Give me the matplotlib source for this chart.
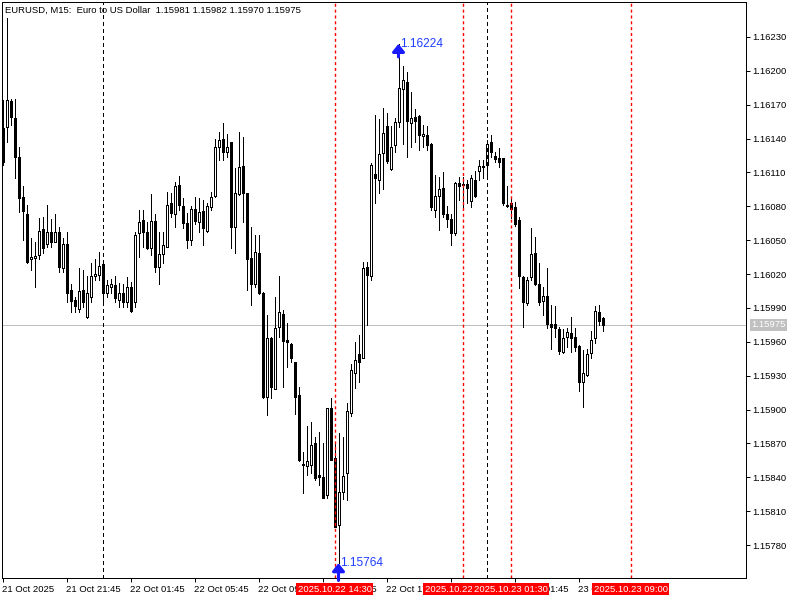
import matplotlib
matplotlib.use('Agg')
import matplotlib.pyplot as plt
import matplotlib.transforms as mtransforms

# EURUSD M15 bars, 21 Oct 2025 17:45 -> 23 Oct 2025 07:15
opens = [1.16149, 1.16150, 1.16173, 1.16158, 1.16124, 1.16088, 1.16073, 1.16033, 1.16034, 1.16037,
         1.16060, 1.16047, 1.16057, 1.16048, 1.16057, 1.16025, 1.16047, 1.16006, 1.15997, 1.15989,
         1.16006, 1.15982, 1.16000, 1.16018, 1.16019, 1.16029, 1.16003, 1.16009, 1.16010, 1.15997,
         1.16003, 1.15995, 1.16009, 1.15995, 1.16056, 1.16068, 1.16057, 1.16043, 1.16067, 1.16026,
         1.16038, 1.16044, 1.16083, 1.16073, 1.16099, 1.16080, 1.16065, 1.16050, 1.16078, 1.16066,
         1.16076, 1.16058, 1.16079, 1.16089, 1.16133, 1.16140, 1.16128, 1.16137, 1.16062, 1.16091,
         1.16116, 1.16092, 1.16034, 1.16011, 1.16039, 1.16003, 1.15911, 1.15963, 1.15918, 1.15973,
         1.15985, 1.15962, 1.15958, 1.15942, 1.15913, 1.15852, 1.15850, 1.15851, 1.15870, 1.15842,
         1.15840, 1.15824, 1.15901, 1.15857, 1.15798, 1.15827, 1.15844, 1.15897, 1.15932, 1.15949,
         1.15946, 1.16026, 1.16018, 1.16109, 1.16103, 1.16127, 1.16151, 1.16113, 1.16134, 1.16155,
         1.16184, 1.16190, 1.16154, 1.16159, 1.16160, 1.16142, 1.16143, 1.16135, 1.16077, 1.16089,
         1.16096, 1.16073, 1.16069, 1.16056, 1.16101, 1.16100, 1.16100, 1.16085, 1.16103, 1.16111,
         1.16116, 1.16117, 1.16137, 1.16125, 1.16123, 1.16123, 1.16081, 1.16083, 1.16079, 1.16068,
         1.16017, 1.15994, 1.16017, 1.16039, 1.16011, 1.15996, 1.16001, 1.15976, 1.15976, 1.15971,
         1.15951, 1.15964, 1.15968, 1.15964, 1.15956, 1.15924, 1.15931, 1.15950, 1.15963, 1.15986,
         1.15981]
highs = [1.16174, 1.16247, 1.16175, 1.16175, 1.16133, 1.16098, 1.16081, 1.16052, 1.16048, 1.16070,
         1.16071, 1.16081, 1.16069, 1.16073, 1.16062, 1.16052, 1.16057, 1.16011, 1.16000, 1.16025,
         1.16024, 1.16018, 1.16030, 1.16033, 1.16040, 1.16031, 1.16015, 1.16016, 1.16018, 1.16012,
         1.16011, 1.16017, 1.16013, 1.16057, 1.16077, 1.16077, 1.16066, 1.16091, 1.16073, 1.16057,
         1.16057, 1.16093, 1.16092, 1.16102, 1.16107, 1.16087, 1.16074, 1.16080, 1.16088, 1.16087,
         1.16086, 1.16083, 1.16093, 1.16140, 1.16146, 1.16154, 1.16144, 1.16137, 1.16114, 1.16146,
         1.16141, 1.16092, 1.16062, 1.16055, 1.16055, 1.16004, 1.15984, 1.15964, 1.16000, 1.16018,
         1.15988, 1.15977, 1.15959, 1.15942, 1.15920, 1.15862, 1.15885, 1.15889, 1.15876, 1.15880,
         1.15870, 1.15901, 1.15910, 1.15871, 1.15879, 1.15876, 1.15906, 1.15940, 1.15960, 1.15966,
         1.16031, 1.16031, 1.16118, 1.16161, 1.16157, 1.16167, 1.16163, 1.16151, 1.16158, 1.16224,
         1.16204, 1.16199, 1.16181, 1.16166, 1.16161, 1.16152, 1.16151, 1.16136, 1.16108, 1.16106,
         1.16110, 1.16080, 1.16073, 1.16102, 1.16106, 1.16106, 1.16103, 1.16108, 1.16111, 1.16121,
         1.16121, 1.16139, 1.16143, 1.16128, 1.16132, 1.16123, 1.16098, 1.16088, 1.16084, 1.16071,
         1.16018, 1.16017, 1.16061, 1.16053, 1.16030, 1.16009, 1.16025, 1.15993, 1.15992, 1.15973,
         1.15971, 1.15972, 1.15982, 1.15972, 1.15957, 1.15953, 1.15954, 1.15970, 1.15992, 1.15993,
         1.15982]
lows = [1.16117, 1.16137, 1.16152, 1.16105, 1.16075, 1.16050, 1.16030, 1.16024, 1.16009, 1.16033,
        1.16039, 1.16044, 1.16044, 1.16048, 1.16022, 1.16022, 1.15995, 1.15986, 1.15986, 1.15986,
        1.15991, 1.15981, 1.15995, 1.16015, 1.16015, 1.15995, 1.16000, 1.16003, 1.15995, 1.15991,
        1.15991, 1.15991, 1.15986, 1.15991, 1.16035, 1.16044, 1.16042, 1.16037, 1.16022, 1.16011,
        1.16030, 1.16044, 1.16071, 1.16062, 1.16077, 1.16061, 1.16043, 1.16046, 1.16064, 1.16057,
        1.16046, 1.16057, 1.16077, 1.16088, 1.16121, 1.16121, 1.16124, 1.16043, 1.16039, 1.16090,
        1.16066, 1.16006, 1.15993, 1.16009, 1.16002, 1.15910, 1.15895, 1.15910, 1.15918, 1.15964,
        1.15920, 1.15938, 1.15942, 1.15896, 1.15854, 1.15826, 1.15842, 1.15844, 1.15838, 1.15833,
        1.15822, 1.15822, 1.15855, 1.15796, 1.15764, 1.15821, 1.15820, 1.15894, 1.15919, 1.15924,
        1.15946, 1.15975, 1.16015, 1.16083, 1.16092, 1.16095, 1.16118, 1.16112, 1.16128, 1.16150,
        1.16135, 1.16124, 1.16133, 1.16137, 1.16130, 1.16133, 1.16130, 1.16077, 1.16071, 1.16059,
        1.16071, 1.16062, 1.16046, 1.16055, 1.16086, 1.16077, 1.16083, 1.16079, 1.16088, 1.16103,
        1.16105, 1.16105, 1.16124, 1.16119, 1.16115, 1.16081, 1.16079, 1.16070, 1.16063, 1.16008,
        1.15973, 1.15993, 1.16015, 1.16010, 1.15993, 1.15984, 1.15972, 1.15954, 1.15964, 1.15949,
        1.15950, 1.15955, 1.15951, 1.15952, 1.15916, 1.15902, 1.15930, 1.15946, 1.15959, 1.15975,
        1.15970]
closes = [1.16119, 1.16174, 1.16159, 1.16124, 1.16087, 1.16076, 1.16031, 1.16035, 1.16036, 1.16058,
          1.16043, 1.16057, 1.16048, 1.16057, 1.16026, 1.16047, 1.16003, 1.15996, 1.15992, 1.16005,
          1.15995, 1.16003, 1.16018, 1.16020, 1.16027, 1.16003, 1.16010, 1.16011, 1.15999, 1.16003,
          1.15995, 1.16009, 1.15987, 1.16055, 1.16066, 1.16057, 1.16043, 1.16067, 1.16026, 1.16038,
          1.16046, 1.16081, 1.16074, 1.16098, 1.16081, 1.16065, 1.16050, 1.16078, 1.16067, 1.16075,
          1.16061, 1.16080, 1.16088, 1.16133, 1.16139, 1.16128, 1.16133, 1.16062, 1.16092, 1.16115,
          1.16092, 1.16033, 1.16011, 1.16040, 1.16003, 1.15911, 1.15963, 1.15920, 1.15972, 1.15986,
          1.15961, 1.15960, 1.15946, 1.15911, 1.15855, 1.15851, 1.15854, 1.15869, 1.15839, 1.15840,
          1.15822, 1.15901, 1.15855, 1.15796, 1.15827, 1.15841, 1.15899, 1.15935, 1.15944, 1.15942,
          1.16025, 1.16019, 1.16117, 1.16105, 1.16126, 1.16145, 1.16120, 1.16133, 1.16155, 1.16185,
          1.16192, 1.16156, 1.16158, 1.16156, 1.16143, 1.16144, 1.16134, 1.16079, 1.16089, 1.16095,
          1.16073, 1.16069, 1.16056, 1.16101, 1.16098, 1.16099, 1.16096, 1.16105, 1.16089, 1.16116,
          1.16115, 1.16135, 1.16128, 1.16122, 1.16119, 1.16083, 1.16080, 1.16078, 1.16064, 1.16018,
          1.15995, 1.16015, 1.16038, 1.16011, 1.15995, 1.16001, 1.15976, 1.15973, 1.15972, 1.15952,
          1.15963, 1.15969, 1.15963, 1.15955, 1.15924, 1.15932, 1.15949, 1.15962, 1.15987, 1.15978,
          1.15975]

time_ticks = [0, 16, 32, 48, 64, 80, 96, 112, 128, 144]
time_labels = ['21 Oct 2025', '21 Oct 21:45', '22 Oct 01:45', '22 Oct 05:45', '22 Oct 09:45',
               '22 Oct 13:45', '22 Oct 17:45', '22 Oct 21:45', '23 Oct 01:45', '23 Oct 05:45']
price_ticks = [1.15780, 1.15810, 1.15840, 1.15870, 1.15900, 1.15930, 1.15960, 1.15990,
               1.16020, 1.16050, 1.16080, 1.16110, 1.16140, 1.16170, 1.16200, 1.16230]
day_breaks = [25, 121]
event_bars = [83, 115, 127, 157]
event_labels = ['2025.10.22 14:30', '2025.10.22 22:30', '2025.10.23 01:30', '2025.10.23 09:00']
high_bar, high_price = 99, 1.16224
low_bar, low_price = 84, 1.15764

plt.rcParams['font.family'] = ['Liberation Sans', 'DejaVu Sans']
FS = 6.8
PX = 0.72  # one pixel in points

fig = plt.figure(figsize=(8, 6), dpi=100)
ax = fig.add_axes([2 / 800, 22 / 600, 744 / 800, 576 / 600])
ax.set_xlim(-0.125, 185.875)
ax.set_ylim(1.157508, 1.162610)

n = len(opens)
xs = list(range(n))

# current price line
ax.axhline(closes[-1], color='#c0c0c0', lw=PX, zorder=0.5, antialiased=False)

# wicks
ax.vlines(xs, lows, highs, color='black', lw=PX, zorder=2, antialiased=False)
# bodies
bottoms = [min(o, c) for o, c in zip(opens, closes)]
heights = [abs(c - o) for o, c in zip(opens, closes)]
faces = ['white' if c >= o else 'black' for o, c in zip(opens, closes)]
ax.bar(xs, heights, bottom=bottoms, width=0.5, color=faces, edgecolor='black', lw=PX,
       zorder=3, antialiased=False)

# period separators (black) and time markers (red)
ax.vlines(day_breaks, 0, 1, transform=ax.get_xaxis_transform(), colors='black', lw=PX,
          linestyles=[(0, (3, 3))], zorder=4, antialiased=False)
for b in event_bars:
    ax.plot([b, b], [0, 1], transform=ax.get_xaxis_transform(), color='#ff0000', lw=1.0,
            dashes=(2.2, 2.0), zorder=5, dash_capstyle='butt')

# axes styling
for sp in ax.spines.values():
    sp.set_linewidth(PX)
    sp.set_color('black')
    sp.set_antialiased(False)
ax.yaxis.tick_right()
ax.set_yticks(price_ticks)
ax.set_yticklabels(['%.5f' % p for p in price_ticks])
ax.set_xticks(time_ticks)
ax.set_xticklabels(time_labels, ha='left')
ax.tick_params(axis='both', direction='out', length=4 * PX, width=PX, labelsize=FS, colors='black')
ax.tick_params(axis='y', pad=1.5)
ax.tick_params(axis='x', pad=2)

# header
ax.text(3 / 744, 1 - 8 / 576, 'EURUSD, M15:  Euro to US Dollar  %.5f %.5f %.5f %.5f'
        % (opens[-1], highs[-1], lows[-1], closes[-1]),
        transform=ax.transAxes, fontsize=FS, va='center', ha='left', zorder=1)

# current price tag
trans_y = mtransforms.blended_transform_factory(ax.transAxes, ax.transData)
ax.text(1 + 5 / 744, closes[-1], '%.5f' % closes[-1], transform=trans_y, fontsize=FS,
        color='white', va='center', ha='left', clip_on=False,
        bbox=dict(boxstyle='square,pad=0.12', fc='#c0c0c0', ec='none'))

# event labels under the time axis
trans_x = mtransforms.blended_transform_factory(ax.transData, ax.transAxes)
for b, lab in zip(event_bars, event_labels):
    ax.text(b, -11 / 576, lab, transform=trans_x, fontsize=FS, color='white', ha='center',
            va='center', clip_on=False, zorder=10,
            bbox=dict(boxstyle='square,pad=0.2', fc='#ff0000', ec='none'))

# high / low arrows
blue = '#1f3dff'
for b, p, off in [(high_bar, high_price, 0), (low_bar, low_price, -3)]:
    ax.annotate('', xy=(b, p), xytext=(0, off - 9.5), textcoords='offset points',
                xycoords='data', annotation_clip=False, zorder=6,
                arrowprops=dict(arrowstyle='-|>,head_length=0.45,head_width=0.36',
                                color='#1a1aff', lw=2.2, shrinkA=0, shrinkB=0))
    ax.annotate('%.5f' % p, xy=(b, p), xytext=(1.2, 0), textcoords='offset points',
                color=blue, fontsize=8.6, va='center', ha='left', zorder=6)

fig.savefig('out.png', dpi=100)
